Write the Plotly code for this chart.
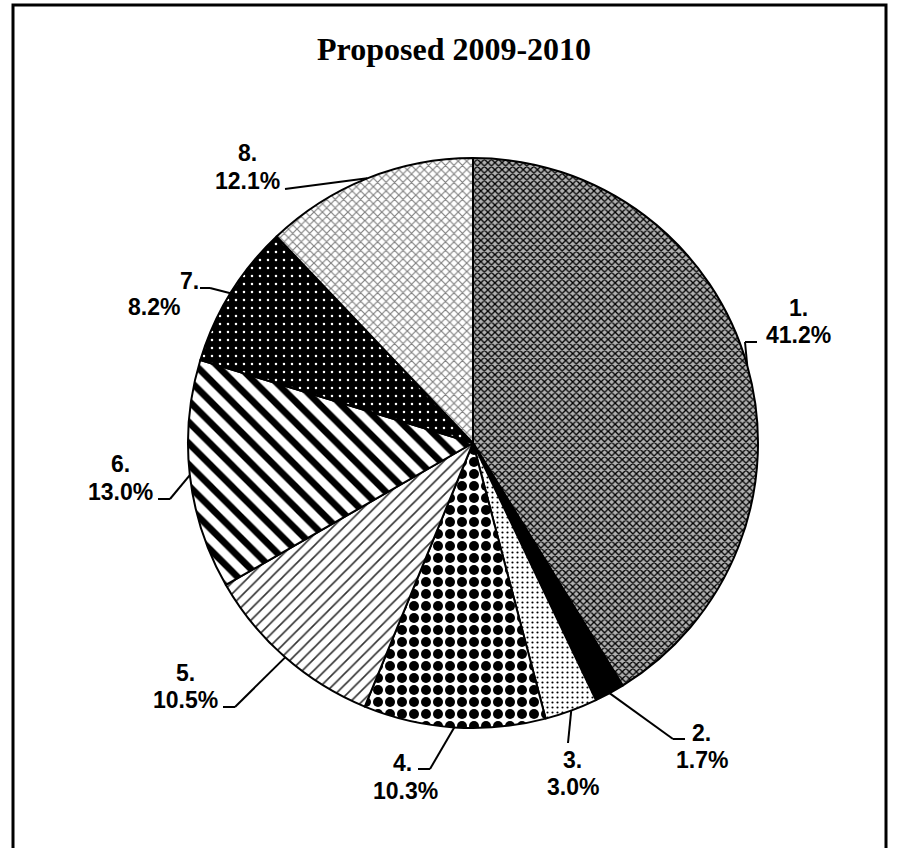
import math
import plotly.graph_objects as go

# ---- data ----
categories = ["1.", "2.", "3.", "4.", "5.", "6.", "7.", "8."]
values = [41.2, 1.7, 3.0, 10.3, 10.5, 13.0, 8.2, 12.1]
title_text = "Proposed 2009-2010"

# ---- styles (fill patterns per slice) ----
patterns = [
    dict(shape="x", fgcolor="#000000", bgcolor="#b0b0b0", size=5, solidity=0.45),
    dict(shape="", fgcolor="#000000", bgcolor="#000000", size=6, solidity=0.5),
    dict(shape=".", fgcolor="#000000", bgcolor="#ffffff", size=5, solidity=0.15),
    dict(shape=".", fgcolor="#000000", bgcolor="#ffffff", size=12, solidity=0.55),
    dict(shape="/", fgcolor="#333333", bgcolor="#ffffff", size=8, solidity=0.2),
    dict(shape="\\", fgcolor="#000000", bgcolor="#ffffff", size=15, solidity=0.45),
    dict(shape=".", fgcolor="#ffffff", bgcolor="#000000", size=8, solidity=0.08),
    dict(shape="x", fgcolor="#808080", bgcolor="#ffffff", size=6, solidity=0.35),
]

W, H = 899, 848
CX, CY, R = 473, 443, 285  # pie placement in pixels (layout)

# label layout (pixels): number line, percent line, leader end, leader elbow
label_layout = [
    dict(num=(798, 308), pct=(798, 335), end=(757, 342), elbow=(745, 342)),
    dict(num=(701, 733), pct=(702, 760), end=(685, 739), elbow=(673, 739)),
    dict(num=(572, 760), pct=(573, 787), end=(568, 743), elbow=(568, 743)),
    dict(num=(402, 763), pct=(405, 791), end=(418, 769), elbow=(430, 769)),
    dict(num=(185, 673), pct=(185, 700), end=(223, 707), elbow=(235, 707)),
    dict(num=(120, 464), pct=(120, 492), end=(158, 499), elbow=(170, 499)),
    dict(num=(189, 281), pct=(154, 307), end=(200, 288), elbow=(210, 288)),
    dict(num=(247, 153), pct=(247, 181), end=(285, 189), elbow=(285, 189)),
]


def X(px):
    return px / W


def Y(py):
    return 1 - py / H


fig = go.Figure(
    go.Pie(
        labels=categories,
        values=values,
        sort=False,
        direction="clockwise",
        rotation=0,
        textinfo="none",
        hoverinfo="label+percent",
        marker=dict(
            colors=[p["bgcolor"] for p in patterns],
            line=dict(color="#000000", width=2),
            pattern=dict(
                shape=[p["shape"] for p in patterns],
                fgcolor=[p["fgcolor"] for p in patterns],
                bgcolor=[p["bgcolor"] for p in patterns],
                size=[p["size"] for p in patterns],
                solidity=[p["solidity"] for p in patterns],
                fillmode="replace",
            ),
        ),
        domain=dict(x=[X(CX - R), X(CX + R)], y=[Y(CY + R), Y(CY - R)]),
        showlegend=False,
    )
)

annotations = []
shapes = []
label_font = dict(family="Liberation Sans, Arial, sans-serif", size=23, color="#000000")
total = sum(values)
cum = 0.0
for cat, v, lay in zip(categories, values, label_layout):
    mid = (cum + v / 2) / total * 2 * math.pi
    cum += v
    px = CX + R * math.sin(mid)
    py = CY - R * math.cos(mid)
    annotations.append(dict(x=X(lay["num"][0]), y=Y(lay["num"][1]), xref="paper", yref="paper",
                            text=f"<b>{cat}</b>", showarrow=False, font=label_font,
                            xanchor="center", yanchor="middle"))
    annotations.append(dict(x=X(lay["pct"][0]), y=Y(lay["pct"][1]), xref="paper", yref="paper",
                            text=f"<b>{v:.1f}%</b>", showarrow=False, font=label_font,
                            xanchor="center", yanchor="middle"))
    ex, ey = lay["elbow"]
    nx, ny = lay["end"]
    shapes.append(dict(type="line", xref="paper", yref="paper",
                       x0=X(px), y0=Y(py), x1=X(ex), y1=Y(ey),
                       line=dict(color="#000000", width=2)))
    if (ex, ey) != (nx, ny):
        shapes.append(dict(type="line", xref="paper", yref="paper",
                           x0=X(ex), y0=Y(ey), x1=X(nx), y1=Y(ny),
                           line=dict(color="#000000", width=2)))

annotations.append(dict(x=X(454), y=Y(49), xref="paper", yref="paper",
                        text=f"<b>{title_text}</b>", showarrow=False,
                        font=dict(family="Liberation Serif, Times New Roman, serif", size=32, color="#000000"),
                        xanchor="center", yanchor="middle"))

# chart border
shapes.append(dict(type="rect", xref="paper", yref="paper",
                   x0=X(13), x1=X(886), y0=-0.05, y1=Y(5),
                   line=dict(color="#000000", width=3), fillcolor="rgba(0,0,0,0)"))

fig.update_layout(
    width=W, height=H,
    margin=dict(l=0, r=0, t=0, b=0),
    paper_bgcolor="#ffffff",
    plot_bgcolor="#ffffff",
    annotations=annotations,
    shapes=shapes,
)

fig.write_html("out.html")
